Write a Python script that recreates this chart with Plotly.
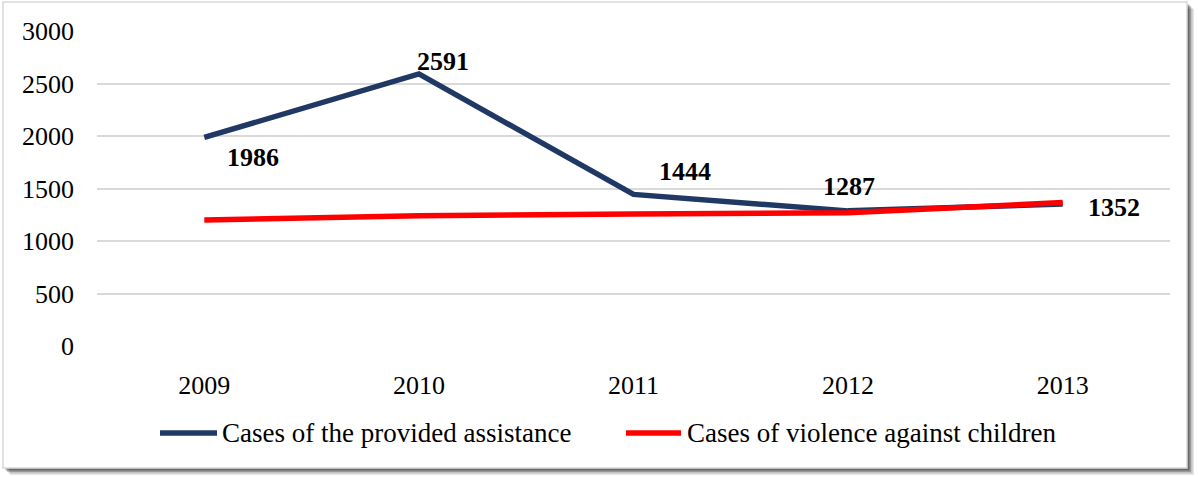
import plotly.graph_objects as go

years = ["2009", "2010", "2011", "2012", "2013"]
assistance = [1986, 2591, 1444, 1287, 1352]
violence = [1200, 1241, 1257, 1268, 1366]
series_names = ["Cases of the provided assistance", "Cases of violence against children"]
y_ticks = [0, 500, 1000, 1500, 2000, 2500, 3000]

W, H = 1198, 477
L, R, T, B = 97, 28, 31, 131
PW, PH = W - L - R, H - T - B

def px_x(px):
    return (px - L) / PW

def px_y(py):
    return (H - B - py) / PH

FONT = "Liberation Serif, Times New Roman, serif"
BLUE = "#1f3864"
RED = "#ff0000"
colors = [BLUE, RED]

fig = go.Figure()
fig.add_trace(go.Scatter(x=years, y=assistance, mode="lines", name=series_names[0],
                         line=dict(color=BLUE, width=5.5), showlegend=False))
fig.add_trace(go.Scatter(x=years, y=violence, mode="lines", name=series_names[1],
                         line=dict(color=RED, width=5.5), showlegend=False))

shifts = [(49, -20), (24, 12), (51, 23), (1, 24), (51, -3)]
for i, (v, (dx, dy)) in enumerate(zip(assistance, shifts)):
    fig.add_annotation(x=i, y=v, xref="x", yref="y", text=f"<b>{v}</b>", showarrow=False,
                       xshift=dx, yshift=dy, font=dict(family=FONT, size=26, color="black"))

shapes = []
# shadow
for k, op in enumerate([0.10, 0.15, 0.22, 0.30]):
    off = 7 - k * 1.5
    shapes.append(dict(type="rect", xref="paper", yref="paper",
                       x0=px_x(3 + off), x1=px_x(1187 + off), y0=px_y(468 + off), y1=px_y(2 + off),
                       fillcolor=f"rgba(0,0,0,{op})", line=dict(width=0), layer="below"))
shapes.append(dict(type="rect", xref="paper", yref="paper",
                   x0=px_x(3), x1=px_x(1187), y0=px_y(468), y1=px_y(2),
                   fillcolor="white", line=dict(color="#d9d9d9", width=1.5), layer="below"))

# custom legend
legend_items = [(160, 217, 220), (626, 681, 685)]
for (x0, x1, xt), name, col in zip(legend_items, series_names, colors):
    shapes.append(dict(type="line", xref="paper", yref="paper",
                       x0=px_x(x0), x1=px_x(x1), y0=px_y(433), y1=px_y(433),
                       line=dict(color=col, width=5.5)))
    fig.add_annotation(xref="paper", yref="paper", x=px_x(xt), y=px_y(433), text=name,
                       showarrow=False, xanchor="left", yanchor="middle",
                       font=dict(family=FONT, size=27, color="black"))

fig.update_layout(
    width=W, height=H,
    margin=dict(l=L, r=R, t=T, b=B, pad=0),
    paper_bgcolor="white", plot_bgcolor="rgba(0,0,0,0)",
    font=dict(family=FONT, size=26, color="black"),
    showlegend=False,
    shapes=shapes,
    xaxis=dict(type="category", categoryorder="array", categoryarray=years,
               range=[-0.5, len(years) - 0.5], autorange=False,
               showgrid=False, zeroline=False, showline=False,
               ticks="outside", ticklen=16, tickcolor="rgba(0,0,0,0)",
               tickfont=dict(family=FONT, size=26)),
    yaxis=dict(range=[0, 3000], autorange=False, tickvals=y_ticks, showgrid=True,
               gridcolor="#d9d9d9", gridwidth=1.5,
               zeroline=False, showline=False, ticks="",
               tickfont=dict(family=FONT, size=26), ticklabelstandoff=22),
)

fig.write_html("out.html")
